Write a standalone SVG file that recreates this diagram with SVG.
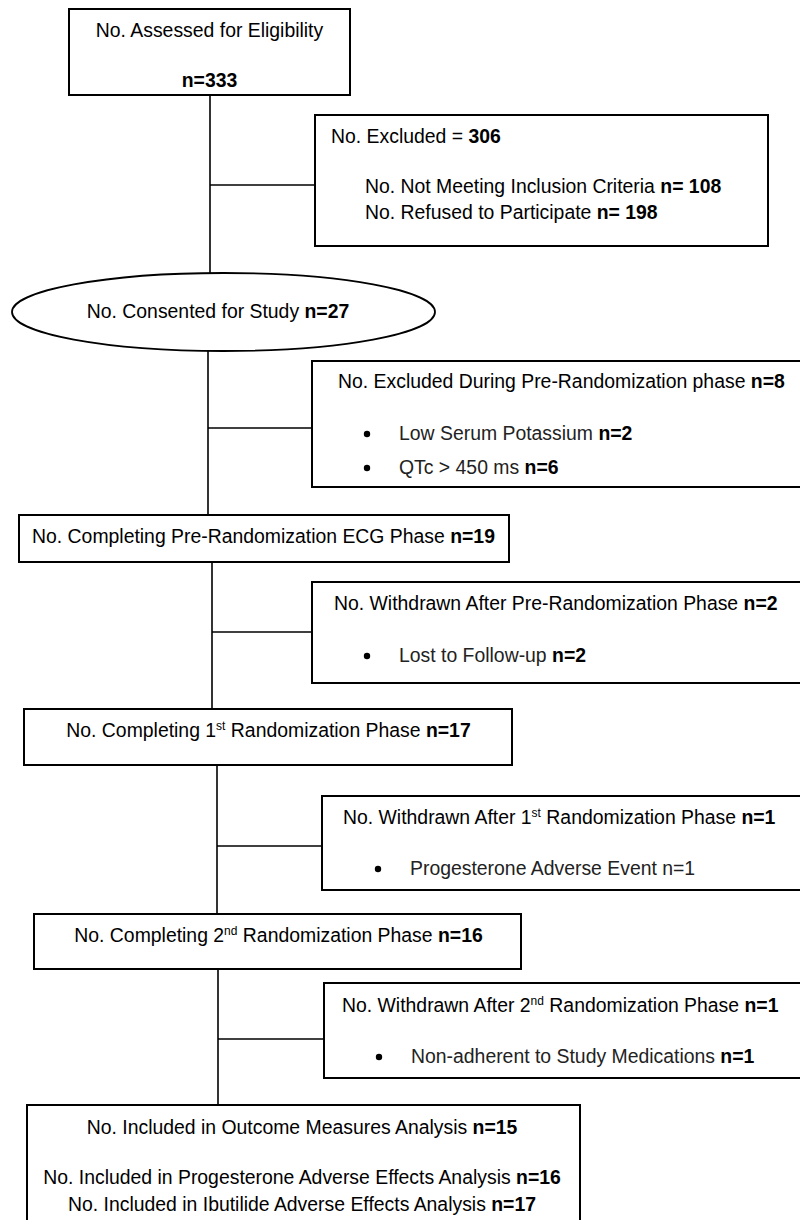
<svg xmlns="http://www.w3.org/2000/svg" width="800" height="1220" viewBox="0 0 800 1220">
<style>
text{font-family:"Liberation Sans",Arial,sans-serif;font-size:19.4px;fill:#000}
.b{font-weight:bold}
.l{fill:#222}
.box{fill:#fff;stroke:#000;stroke-width:2}
.c{stroke:#000;stroke-width:1.6;fill:none}
.sup{font-size:12px}
</style>
<rect x="0" y="0" width="800" height="1220" fill="#fff"/>
<g id="connectors">
<line class="c" x1="210" y1="95" x2="210" y2="273"/>
<line class="c" x1="210" y1="185" x2="315" y2="185"/>
<line class="c" x1="208" y1="351" x2="208" y2="515"/>
<line class="c" x1="208" y1="428" x2="312" y2="428"/>
<line class="c" x1="212" y1="562" x2="212" y2="709"/>
<line class="c" x1="212" y1="632" x2="312" y2="632"/>
<line class="c" x1="217" y1="765" x2="217" y2="914"/>
<line class="c" x1="217" y1="846" x2="322" y2="846"/>
<line class="c" x1="218" y1="969" x2="218" y2="1105"/>
<line class="c" x1="218" y1="1039" x2="324" y2="1039"/>
</g>
<g id="assessed">
<rect class="box" x="69" y="9" width="281" height="86"/>
<text x="209.5" y="37" text-anchor="middle">No. Assessed for Eligibility</text>
<text x="209.5" y="87" text-anchor="middle" class="b">n=333</text>
</g>
<g id="excluded">
<rect class="box" x="315" y="115" width="453" height="131"/>
<text x="331" y="143">No. Excluded = <tspan class="b">306</tspan></text>
<text x="365" y="193">No. Not Meeting Inclusion Criteria <tspan class="b">n= 108</tspan></text>
<text x="365" y="219">No. Refused to Participate <tspan class="b">n= 198</tspan></text>
</g>
<g id="consented">
<ellipse cx="223.5" cy="312" rx="211.5" ry="39" fill="#fff" stroke="#000" stroke-width="1.8"/>
<text x="218" y="318" text-anchor="middle">No. Consented for Study <tspan class="b">n=27</tspan></text>
</g>
<g id="prerand-excluded">
<rect class="box" x="312" y="361" width="500" height="126"/>
<text x="338" y="388">No. Excluded During Pre-Randomization phase <tspan class="b">n=8</tspan></text>
<circle cx="367" cy="434" r="3.2"/>
<text x="399" y="440" class="l">Low Serum Potassium <tspan class="b" style="fill:#000">n=2</tspan></text>
<circle cx="367" cy="468" r="3.2"/>
<text x="399" y="474" class="l">QTc &gt; 450 ms <tspan class="b" style="fill:#000">n=6</tspan></text>
</g>
<g id="prerand-completing">
<rect class="box" x="19" y="515" width="490" height="47"/>
<text x="263.5" y="543" text-anchor="middle">No. Completing Pre-Randomization ECG Phase <tspan class="b">n=19</tspan></text>
</g>
<g id="prerand-withdrawn">
<rect class="box" x="312" y="582" width="500" height="101"/>
<text x="334" y="610">No. Withdrawn After Pre-Randomization Phase <tspan class="b">n=2</tspan></text>
<circle cx="367" cy="656" r="3.2"/>
<text x="399" y="662" class="l">Lost to Follow-up <tspan class="b" style="fill:#000">n=2</tspan></text>
</g>
<g id="rand1-completing">
<rect class="box" x="24" y="709" width="488" height="56"/>
<text x="268.5" y="737" text-anchor="middle">No. Completing 1<tspan class="sup" dy="-7">st</tspan><tspan dy="7"> Randomization Phase </tspan><tspan class="b">n=17</tspan></text>
</g>
<g id="rand1-withdrawn">
<rect class="box" x="322" y="796" width="490" height="94"/>
<text x="343" y="824">No. Withdrawn After 1<tspan class="sup" dy="-7">st</tspan><tspan dy="7"> Randomization Phase </tspan><tspan class="b">n=1</tspan></text>
<circle cx="378" cy="869" r="3.2"/>
<text x="410" y="875" class="l">Progesterone Adverse Event n=1</text>
</g>
<g id="rand2-completing">
<rect class="box" x="34" y="914" width="487" height="55"/>
<text x="278.5" y="942" text-anchor="middle">No. Completing 2<tspan class="sup" dy="-7">nd</tspan><tspan dy="7"> Randomization Phase </tspan><tspan class="b">n=16</tspan></text>
</g>
<g id="rand2-withdrawn">
<rect class="box" x="324" y="983" width="490" height="95"/>
<text x="342" y="1012">No. Withdrawn After 2<tspan class="sup" dy="-7">nd</tspan><tspan dy="7"> Randomization Phase </tspan><tspan class="b">n=1</tspan></text>
<circle cx="379" cy="1057" r="3.2"/>
<text x="411" y="1063" class="l">Non-adherent to Study Medications <tspan class="b" style="fill:#000">n=1</tspan></text>
</g>
<g id="analysis">
<rect class="box" x="27" y="1105" width="553" height="130"/>
<text x="302" y="1134" text-anchor="middle">No. Included in Outcome Measures Analysis <tspan class="b">n=15</tspan></text>
<text x="302" y="1184" text-anchor="middle">No. Included in Progesterone Adverse Effects Analysis <tspan class="b">n=16</tspan></text>
<text x="302" y="1211" text-anchor="middle">No. Included in Ibutilide Adverse Effects Analysis <tspan class="b">n=17</tspan></text>
</g>
</svg>
